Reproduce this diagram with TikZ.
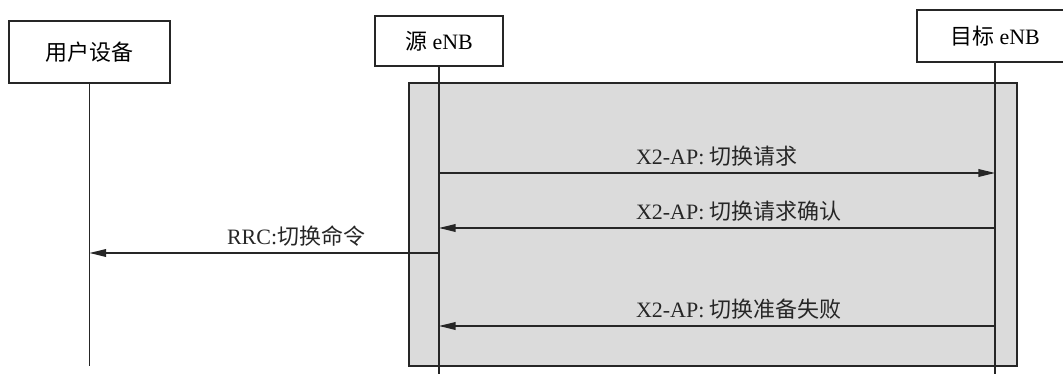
\documentclass[tikz,border=0pt]{standalone}
\usepackage{fontspec}
\setmainfont{Liberation Serif}
\newfontfamily\cjk{Noto Sans CJK SC}
\usepackage{tikz}
\usetikzlibrary{positioning, arrows.meta}

\newcommand{\zh}[1]{{\cjk #1}}

\begin{document}
\begin{tikzpicture}[x=0.02cm, y=-0.02cm, line width=0.8pt,
    entity/.style={rectangle, draw=black!85, fill=white, font=\fontsize{12.5}{14}\selectfont},
    lifeline/.style={draw=black!85},
    msg/.style={draw=black!85, -{Triangle[length=9.5pt, width=4.4pt]}},
    lbl/.style={inner sep=2.5pt, font=\fontsize{12.5}{14}\selectfont, text=black!85}]
            \useasboundingbox (0, 0) rectangle (1063, 374);

            % gray area behind the messages
            \draw[draw=black!85, fill=black!14] (409, 83) rectangle (1017, 366);

            \node[entity, minimum width=161*0.02cm, minimum height=62*0.02cm] (ue) at (89.5, 52) {\zh{用户设备}};
            \node[entity, minimum width=128*0.02cm, minimum height=50*0.02cm] (src) at (439, 41) {\zh{源} eNB};
            \node[entity, minimum width=156*0.02cm, minimum height=52*0.02cm] (tgt) at (995, 36) {\zh{目标} eNB};

            \coordinate (ue end) at (ue.south |- 0, 366);
            \coordinate (src end) at (src.south |- 0, 374);
            \coordinate (tgt end) at (tgt.south |- 0, 374);

            \draw[lifeline] (ue) -- (ue end);
            \draw[lifeline] (src) -- (src end);
            \draw[lifeline] (tgt) -- (tgt end);

            % message end points on the lifelines
            \coordinate (s1) at (src.south |- 0, 173);
            \coordinate (t1) at (tgt.south |- 0, 173);
            \coordinate (s2) at (src.south |- 0, 228);
            \coordinate (t2) at (tgt.south |- 0, 228);
            \coordinate (s3) at (src.south |- 0, 253);
            \coordinate (u3) at (ue.south |- 0, 253);
            \coordinate (s4) at (src.south |- 0, 326);
            \coordinate (t4) at (tgt.south |- 0, 326);

            \draw[msg] (s1) -- (t1);
            \draw[msg] (t2) -- (s2);
            \draw[msg] (s3) -- (u3);
            \draw[msg] (t4) -- (s4);

            \node[lbl, anchor=south west] (l1) at (631, 171) {X2-AP:\ \zh{切换请求}};
            \node[lbl, anchor=south west] (l2) at (631, 226) {X2-AP:\ \zh{切换请求确认}};
            \node[lbl, anchor=south west] (l3) at (222, 251) {RRC:\zh{切换命令}};
            \node[lbl, anchor=south west] (l4) at (631, 324) {X2-AP:\ \zh{切换准备失败}};
        \end{tikzpicture}
\end{document}
